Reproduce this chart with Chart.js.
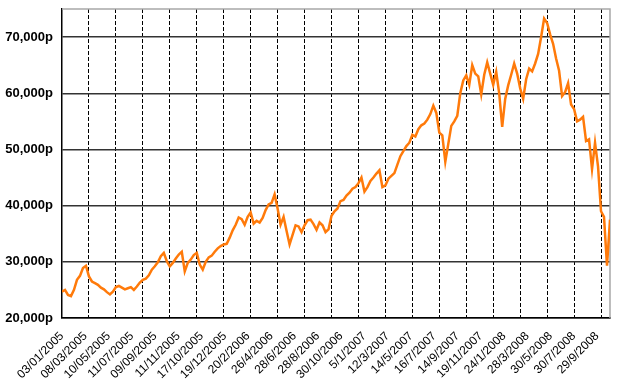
<!DOCTYPE html>
<html>
<head>
<meta charset="utf-8">
<script src="https://cdn.jsdelivr.net/npm/chart.js@4.4.0/dist/chart.umd.min.js"></script>
<style>
  html, body { margin: 0; padding: 0; background: #fff; }
</style>
</head>
<body>
<canvas id="chart" width="628" height="389"></canvas>
<script>
// date labels along the bottom, as printed
const xLabels = [
  "03/01/2005", "08/03/2005", "10/05/2005", "11/07/2005", "09/09/2005", "11/11/2005",
  "17/10/2005", "19/12/2005", "20/2/2006", "26/4/2006", "28/6/2006", "28/8/2006",
  "30/10/2006", "5/1/2007", "12/3/2007", "14/5/2007", "16/7/2007", "14/9/2007",
  "19/11/2007", "24/1/2008", "28/3/2008", "30/5/2008", "30/7/2008", "29/9/2008"
];

// price, evenly spaced from Jan 2005 to mid Oct 2008
const prices = [
  24700, 25000, 24100, 23900, 25000, 26800, 27500, 28900, 29300, 27400,
  26500, 26200, 25900, 25400, 25100, 24600, 24200, 24700, 25500, 25700,
  25400, 25100, 25300, 25500, 25000, 25600, 26300, 26800, 27000, 27600,
  28600, 29200, 29900, 31000, 31600, 30100, 29200, 29800, 30600, 31300,
  31800, 28300, 29800, 30400, 31200, 31600, 29500, 28600, 30000, 30800,
  31100, 31800, 32400, 32800, 33100, 33200, 34300, 35600, 36600, 37900,
  37600, 36600, 38000, 38800, 36800, 37300, 37000, 37800, 39200, 40200,
  40500, 42000, 39500, 36600, 38000, 35500, 33100, 34800, 36500, 36300,
  35300, 36500, 37400, 37500, 36700, 35700, 37000, 36500, 35300, 35800,
  38200, 39000, 39500, 40800, 41000, 41800, 42300, 43000, 43300, 44000,
  45000, 42500, 43300, 44400, 45000, 45700, 46300, 43300, 43600, 44800,
  45300, 45800, 47300, 48800, 49700, 50600, 51200, 52600, 52300, 53600,
  54300, 54600, 55300, 56300, 57800, 56500, 53000, 52500, 47800, 51000,
  54200, 55000, 56000, 60000, 62300, 63200, 61500, 65000, 63500, 63000,
  59800, 63300, 65500, 63500, 61500, 63800, 60000, 54000, 59000, 61400,
  63300, 65300, 63500, 60900, 59000, 62500, 64400, 63900, 65300, 67000,
  70000, 73300, 72500, 70500, 68800, 66200, 64000, 59500, 60200, 61800,
  58000, 57200, 55000, 55300, 55800, 51500, 51800, 46500, 51200, 47000,
  39000, 38000, 29300, 37500
];

const yTicks = [20000, 30000, 40000, 50000, 60000, 70000];
const yMin = 20000;
const yMax = 75000;

// labels and dashed gridlines do not share spacing in the original
const labelStep = 7.77;
const gridStep = 9.015;
const gridCount = 20;

const lastIdx = prices.length - 1;
const points = prices.map((v, i) => ({ x: i, y: v }));

const frame = {
  id: 'frame',
  beforeDatasetsDraw(chart) {
    const { ctx, chartArea: a } = chart;
    ctx.save();
    ctx.strokeStyle = '#a8a8a8';
    ctx.lineWidth = 1.5;
    ctx.beginPath();
    ctx.moveTo(a.left, a.top);
    ctx.lineTo(a.right, a.top);
    ctx.lineTo(a.right, a.bottom);
    ctx.stroke();
    ctx.restore();
  }
};

new Chart(document.getElementById('chart'), {
  type: 'line',
  data: {
    datasets: [{
      data: points,
      borderColor: '#ff7a0a',
      borderWidth: 2.5,
      pointRadius: 0,
      tension: 0,
      fill: false
    }]
  },
  options: {
    responsive: false,
    animation: false,
    devicePixelRatio: 1,
    layout: { padding: { top: 9, right: 18, left: 0, bottom: 0 } },
    plugins: { legend: { display: false }, tooltip: { enabled: false } },
    scales: {
      x: {
        type: 'linear',
        position: 'bottom',
        min: 0,
        max: lastIdx,
        afterBuildTicks: s => { s.ticks = xLabels.map((_, i) => ({ value: i * labelStep })); },
        afterFit: s => { s.height = 71; s.paddingLeft = 0; s.paddingRight = 0; },
        ticks: {
          autoSkip: false,
          minRotation: 45,
          maxRotation: 45,
          padding: 11,
          color: '#000',
          font: { family: 'Liberation Sans', size: 12 },
          callback: (v, i) => xLabels[i]
        },
        grid: { display: false, drawTicks: false },
        border: { display: true, color: '#000', width: 1.5 }
      },
      x2: {
        type: 'linear',
        position: 'bottom',
        min: 0,
        max: lastIdx,
        afterBuildTicks: s => {
          const t = [];
          for (let k = 1; k <= gridCount; k++) t.push({ value: k * gridStep });
          s.ticks = t;
        },
        afterFit: s => { s.height = 0; s.paddingLeft = 0; s.paddingRight = 0; },
        ticks: { display: false },
        grid: { color: '#000', lineWidth: 1, drawTicks: false },
        border: { display: false, dash: [4, 2] }
      },
      y: {
        type: 'linear',
        min: yMin,
        max: yMax,
        afterBuildTicks: s => { s.ticks = yTicks.map(v => ({ value: v })); },
        afterFit: s => { s.width = 62; s.paddingTop = 0; s.paddingBottom = 0; },
        ticks: {
          padding: 9,
          color: '#000',
          font: { family: 'Liberation Sans', size: 13, weight: 'bold' },
          callback: v => v.toLocaleString('en-US') + 'p'
        },
        grid: { color: '#333', lineWidth: 1.5, drawTicks: false },
        border: { color: '#000', width: 1.5 }
      }
    }
  },
  plugins: [frame]
});
</script>
</body>
</html>
